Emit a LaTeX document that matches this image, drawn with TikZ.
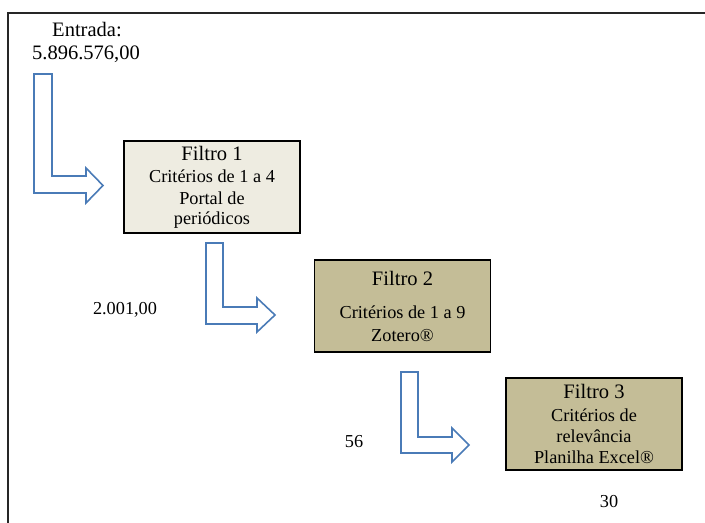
\documentclass[tikz,border=0pt]{standalone}
\usepackage{fontspec}
\setmainfont{Liberation Serif}
\definecolor{boxlight}{HTML}{EEECE1}
\definecolor{boxtan}{HTML}{C4BD97}
\definecolor{arrowblue}{HTML}{4A7BB7}
\newcommand{\bodyf}{\fontsize{13.7}{15}\selectfont}
\newcommand{\titlef}{\fontsize{15.4}{15}\selectfont}
\tikzset{
  filterbox/.style={draw=black, line width=1.4pt, minimum width=132pt, minimum height=69.5pt, align=center, inner sep=0pt, font=\bodyf},
  blockarrow/.style={draw=arrowblue, line width=1.2pt, fill=white, line join=miter},
  plain/.style={anchor=base, inner sep=0pt, font=\bodyf},
  bigplain/.style={anchor=base, inner sep=0pt, font=\titlef}
}
\begin{document}
\begin{tikzpicture}[x=0.75pt, y=-0.75pt]
\useasboundingbox (0,0) rectangle (705,523);
% frame
\draw[line width=1.6pt, black!85] (705,13) -- (8,13) -- (8,523);
% input text
\node[bigplain] (in1) at (87,37) {Entrada:};
\node[bigplain] (in2) at (86,60) {5.896.576,00};
% boxes
\node[filterbox, fill=boxlight] (f1) at (212,187) {{\titlef Filtro 1}\\[1.5pt] Critérios de 1 a 4\\[1.5pt] Portal de\\ periódicos};
\node[filterbox, fill=boxtan] (f2) at (402.5,306) {{\titlef Filtro 2}\\[10pt] Critérios de 1 a 9\\[2pt] Zotero®};
\node[filterbox, fill=boxtan] (f3) at (594,424) {{\titlef Filtro 3}\\[2pt] Critérios de\\[0.5pt] relevância\\[1pt] Planilha Excel®};
% counts
\node[plain] (n2) at (125,315) {2.001,00};
\node[plain] (n3) at (354,447) {56};
\node[plain] (n4) at (609,507) {30};
% bent block arrows
\draw[blockarrow] (34,74) -- (52,74) -- (52,176) -- (86,176) -- (86,168) -- (103,185.5) -- (86,203) -- (86,193) -- (34,193) -- cycle;
\draw[blockarrow] (206,243) -- (223,243) -- (223,307) -- (257,307) -- (257,298) -- (275,315) -- (257,332) -- (257,324) -- (206,324) -- cycle;
\draw[blockarrow] (401,372) -- (418,372) -- (418,437) -- (452,437) -- (452,428) -- (469,445) -- (452,462) -- (452,453) -- (401,453) -- cycle;
\end{tikzpicture}
\end{document}
